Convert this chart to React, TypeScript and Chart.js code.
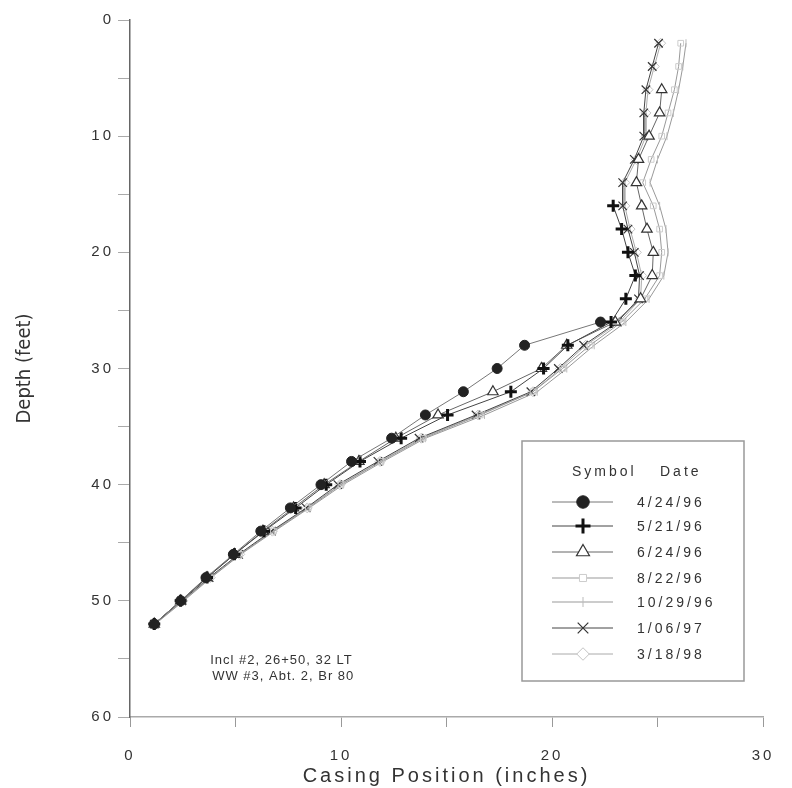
import React, { useEffect, useRef } from 'react';
import { Chart, registerables } from 'chart.js';
import { drawPoint } from 'chart.js/helpers';

Chart.register(...registerables);

// Depth below top of casing (feet)
const depths = [2, 4, 6, 8, 10, 12, 14, 16, 18, 20, 22, 24, 26, 28, 30, 32, 34, 36, 38, 40, 42, 44, 46, 48, 50, 52];

// Casing position (inches) per survey date; null = not recorded
const pos042496 = [null, null, null, null, null, null, null, null, null, null, null, null, 22.3, 18.7, 17.4, 15.8, 14.0, 12.4, 10.5, 9.05, 7.6, 6.2, 4.9, 3.6, 2.4, 1.15];
const pos052196 = [null, null, null, null, null, null, null, 22.9, 23.3, 23.6, 23.95, 23.5, 22.8, 20.75, 19.6, 18.05, 15.05, 12.85, 10.9, 9.3, 7.85, 6.35, 4.95, 3.65, 2.4, 1.15];
const pos062496 = [null, null, 25.2, 25.1, 24.6, 24.1, 24.0, 24.25, 24.5, 24.8, 24.75, 24.2, 23.0, 20.7, 19.5, 17.2, 14.6, 12.6, 10.85, 9.2, 7.75, 6.3, 4.95, 3.65, 2.4, 1.15];
const pos082296 = [26.1, 26.0, 25.8, 25.5, 25.2, 24.7, 24.3, 24.8, 25.1, 25.2, 25.1, 24.4, 23.3, 21.8, 20.5, 19.1, 16.6, 13.9, 11.9, 10.0, 8.45, 6.8, 5.2, 3.8, 2.5, 1.15];
const pos102996 = [26.35, 26.2, 26.0, 25.75, 25.45, 25.0, 24.65, 25.1, 25.4, 25.5, 25.3, 24.6, 23.5, 22.0, 20.7, 19.3, 16.8, 14.0, 12.0, 10.1, 8.5, 6.85, 5.25, 3.85, 2.55, 1.2];
const pos010697 = [25.05, 24.75, 24.45, 24.35, 24.35, 23.9, 23.35, 23.35, 23.6, 23.9, 24.15, 24.1, 23.1, 21.5, 20.3, 19.0, 16.4, 13.7, 11.75, 9.85, 8.35, 6.7, 5.15, 3.75, 2.45, 1.15];
const pos031898 = [25.15, 24.85, 24.55, 24.45, 24.45, 24.0, 23.45, 23.45, 23.7, 24.0, 24.25, 24.2, 23.2, 21.6, 20.4, 19.1, 16.5, 13.8, 11.85, 9.95, 8.4, 6.75, 5.2, 3.8, 2.5, 1.15];

const seriesLabels = ['4/24/96', '5/21/96', '6/24/96', '8/22/96', '10/29/96', '1/06/97', '3/18/98'];
const seriesValues = [pos042496, pos052196, pos062496, pos082296, pos102996, pos010697, pos031898];

const xTickLabels = [0, 10, 20, 30];
const yTickLabels = [0, 10, 20, 30, 40, 50, 60];

const xTitle = 'Casing Position (inches)';
const yTitle = 'Depth (feet)';
const legendTitleSymbol = 'Symbol';
const legendTitleDate = 'Date';
const noteLines = ['Incl #2, 26+50, 32 LT', 'WW #3, Abt. 2, Br 80'];

const styles = [
  { pointStyle: 'circle', radius: 5, borderWidth: 1, stroke: '#222', fill: '#222', line: '#777' },
  { pointStyle: 'cross', radius: 6, borderWidth: 3, stroke: '#111', fill: '#111', line: '#444' },
  { pointStyle: 'triangle', radius: 6, borderWidth: 1.2, stroke: '#333', fill: '#fff', line: '#666' },
  { pointStyle: 'rect', radius: 4, borderWidth: 1, stroke: '#ccc', fill: 'rgba(255,255,255,0)', line: '#999' },
  { pointStyle: 'line', radius: 4, borderWidth: 1, stroke: '#bbb', fill: '#bbb', line: '#999', rotation: 90 },
  { pointStyle: 'crossRot', radius: 6, borderWidth: 1.2, stroke: '#333', fill: '#333', line: '#444' },
  { pointStyle: 'rectRot', radius: 5, borderWidth: 1, stroke: '#c4c4c4', fill: 'rgba(255,255,255,0)', line: '#aaa' },
];

const FONT = "'Liberation Sans', Arial, sans-serif";

export default function App() {
  const canvasRef = useRef<HTMLCanvasElement>(null);

  useEffect(() => {
    if (!canvasRef.current) return;

    const datasets = seriesLabels.map((label, si) => {
      const st = styles[si];
      const vals = seriesValues[si];
      const data = depths
        .map((d, i) => ({ x: vals[i], y: d }))
        .filter((p) => p.x !== null) as { x: number; y: number }[];
      return {
        label,
        data,
        showLine: true,
        borderColor: st.line,
        borderWidth: 1,
        pointStyle: st.pointStyle as any,
        pointRadius: st.radius,
        pointRotation: (st as any).rotation || 0,
        pointBorderWidth: st.borderWidth,
        pointBorderColor: st.stroke,
        pointBackgroundColor: st.fill,
        fill: false,
        tension: 0,
      };
    });

    const spacingPlugin = {
      id: 'spacing',
      beforeDraw(chart: any) {
        chart.ctx.letterSpacing = '3px';
      },
      beforeDatasetsDraw(chart: any) {
        chart.ctx.letterSpacing = '0px';
      },
    };

    const decorPlugin = {
      id: 'decor',
      afterDraw(chart: any) {
        const ctx = chart.ctx as CanvasRenderingContext2D;
        const xs = chart.scales.x;
        const ys = chart.scales.y;
        ctx.save();

        // y-axis title (narrow face)
        ctx.letterSpacing = '0px';
        ctx.fillStyle = '#333';
        ctx.font = "20px 'Liberation Sans Narrow', 'DejaVu Sans Condensed', sans-serif";
        ctx.textAlign = 'center';
        ctx.textBaseline = 'middle';
        ctx.save();
        ctx.translate(25, (chart.chartArea.top + chart.chartArea.bottom) / 2);
        ctx.rotate(-Math.PI / 2);
        ctx.fillText(yTitle, 0, 0);
        ctx.restore();

        // note text
        ctx.letterSpacing = '1px';
        ctx.font = `13px ${FONT}`;
        ctx.textAlign = 'left';
        ctx.fillStyle = '#333';
        const nx = xs.getPixelForValue(3.8);
        ctx.fillText(noteLines[0], nx, ys.getPixelForValue(55.1));
        ctx.fillText(noteLines[1], nx + 2, ys.getPixelForValue(56.5));

        // legend box
        const bx = 522, by = 441, bw = 222, bh = 240;
        ctx.strokeStyle = '#999';
        ctx.lineWidth = 1.5;
        ctx.strokeRect(bx, by, bw, bh);

        ctx.letterSpacing = '3px';
        ctx.font = `14px ${FONT}`;
        ctx.fillStyle = '#333';
        ctx.textBaseline = 'middle';
        ctx.fillText(legendTitleSymbol, 572, 472);
        ctx.fillText(legendTitleDate, 660, 472);

        const rowY = [502, 526, 552, 578, 602, 628, 654];
        chart.data.datasets.forEach((ds: any, i: number) => {
          const y = rowY[i];
          const st = styles[i];
          ctx.strokeStyle = st.line;
          ctx.lineWidth = 1;
          ctx.beginPath();
          ctx.moveTo(552, y);
          ctx.lineTo(613, y);
          ctx.stroke();
          ctx.strokeStyle = st.stroke;
          ctx.fillStyle = st.fill === 'rgba(255,255,255,0)' ? '#fff' : st.fill;
          ctx.lineWidth = st.borderWidth;
          drawPoint(ctx, {
            pointStyle: st.pointStyle as any,
            radius: st.radius * 1.25,
            rotation: (st as any).rotation || 0,
            borderWidth: st.borderWidth,
          } as any, 583, y);
          ctx.fillStyle = '#333';
          ctx.fillText(ds.label, 637, y + 1);
        });

        ctx.restore();
      },
    };

    const chart = new Chart(canvasRef.current, {
      type: 'scatter',
      data: { datasets: datasets as any },
      options: {
        responsive: false,
        animation: false,
        layout: { padding: { top: 20, right: 29, left: 0, bottom: 0 } },
        plugins: {
          legend: { display: false },
          tooltip: { enabled: false },
        },
        scales: {
          x: {
            type: 'linear',
            min: 0,
            max: 30,
            ticks: {
              stepSize: 5,
              color: '#333',
              font: { family: FONT, size: 15 },
              padding: 20,
              callback: (v: any) => (xTickLabels.includes(Number(v)) ? String(v) : ''),
            },
            grid: { drawOnChartArea: false, drawTicks: true, tickLength: 10, color: '#999' },
            border: { color: '#aaa', width: 1.5 },
            title: {
              display: true,
              text: xTitle,
              color: '#333',
              font: { family: FONT, size: 20 },
              padding: { top: 0, bottom: 0 },
            },
            afterFit: (s: any) => {
              s.height = 71;
            },
          },
          y: {
            type: 'linear',
            reverse: true,
            min: 0,
            max: 60,
            ticks: {
              stepSize: 5,
              color: '#333',
              font: { family: FONT, size: 15 },
              padding: 4,
              callback: (v: any) => (yTickLabels.includes(Number(v)) ? String(v) : ''),
            },
            grid: { drawOnChartArea: false, drawTicks: true, tickLength: 12, color: '#aaa' },
            border: { color: '#666', width: 1.5 },
            afterFit: (s: any) => {
              s.width = 130;
            },
          },
        },
      },
      plugins: [spacingPlugin, decorPlugin],
    });

    return () => chart.destroy();
  }, []);

  return (
    <div style={{ position: 'absolute', left: 0, top: 0, width: 792, height: 788, background: '#fff' }}>
      <canvas ref={canvasRef} width={792} height={788} />
    </div>
  );
}
